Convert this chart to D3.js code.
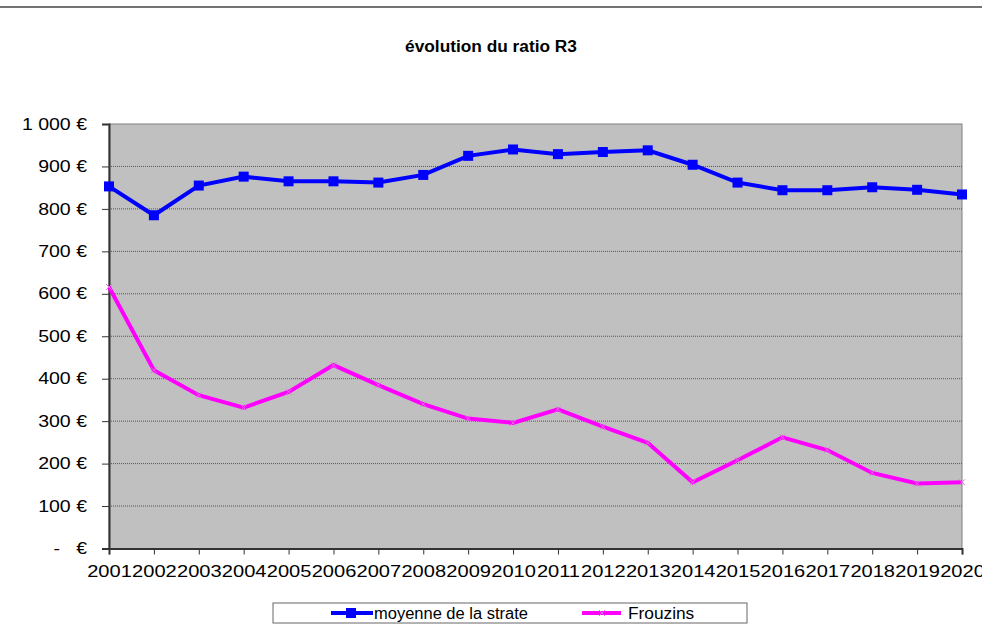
<!DOCTYPE html>
<html>
<head>
<meta charset="utf-8">
<script src="https://cdn.jsdelivr.net/npm/d3@7"></script>
<style>
  body { margin: 0; background: #fff; }
  text { font-family: "Liberation Sans", Arial, sans-serif; }
</style>
</head>
<body>
<script>
// Data
const years = d3.range(2001, 2021);
const strate = [853, 785, 855, 876, 865, 865, 862, 880, 925, 940, 929, 934, 938, 904, 862, 844, 844, 851, 845, 834];
const frouzins = [616, 420, 361, 332, 369, 432, 385, 340, 306, 296, 328, 287, 249, 156, 208, 262, 232, 178, 153, 156];
const yTicks = [0, 100, 200, 300, 400, 500, 600, 700, 800, 900, 1000];
const yTickLabels = ["-   €", "100 €", "200 €", "300 €", "400 €", "500 €", "600 €", "700 €", "800 €", "900 €", "1 000 €"];

const W = 982, H = 643;
const plot = { left: 109, right: 962, top: 124, bottom: 548.5 };

const svg = d3.select("body").append("svg")
    .attr("width", W)
    .attr("height", H);

// stretch text horizontally (the original glyphs are wider than Arial)
function widen(sel, k) {
    sel.each(function() {
        const w = this.getComputedTextLength();
        d3.select(this)
            .attr("textLength", w * k)
            .attr("lengthAdjust", "spacingAndGlyphs");
    });
}

// frame line of the chart area
svg.append("line")
    .attr("x1", 0).attr("x2", W).attr("y1", 7).attr("y2", 7)
    .attr("stroke", "#444").attr("stroke-width", 1.5);

// Title
svg.append("text")
    .attr("x", 491).attr("y", 52)
    .attr("text-anchor", "middle")
    .style("font-size", "16px")
    .style("font-weight", "bold")
    .text("évolution du ratio R3")
    .call(widen, 1.08);

const x = d3.scalePoint()
    .domain(years)
    .range([plot.left, plot.right]);

const y = d3.scaleLinear()
    .domain([0, 1000])
    .range([plot.bottom, plot.top]);

// plot background
svg.append("rect")
    .attr("x", plot.left).attr("y", plot.top)
    .attr("width", plot.right - plot.left)
    .attr("height", plot.bottom - plot.top)
    .attr("fill", "#c0c0c0")
    .attr("stroke", "#808080");

// gridlines
svg.append("g")
    .selectAll("line")
    .data(yTicks.filter(d => d > 0 && d < 1000))
    .join("line")
    .attr("x1", plot.left).attr("x2", plot.right)
    .attr("y1", d => y(d)).attr("y2", d => y(d))
    .attr("stroke", "#555")
    .attr("stroke-width", 1)
    .attr("stroke-dasharray", "1,1");

// y axis
const yAxis = svg.append("g")
    .attr("transform", `translate(${plot.left},0)`)
    .call(d3.axisLeft(y).tickValues(yTicks).tickSize(7).tickPadding(15)
        .tickFormat((d, i) => yTickLabels[i]));
yAxis.select(".domain").attr("stroke", "#333").attr("stroke-width", 2);
yAxis.selectAll(".tick line").attr("stroke", "#333");
yAxis.selectAll("text")
    .attr("font-size", 16)
    .attr("fill", "#000")
    .style("white-space", "pre")
    .call(widen, 1.22);

// x axis
const xAxis = svg.append("g")
    .attr("transform", `translate(0,${plot.bottom})`)
    .call(d3.axisBottom(x).tickSize(6).tickPadding(10).tickFormat(d3.format("d")));
xAxis.select(".domain").attr("stroke", "#333").attr("stroke-width", 2);
xAxis.selectAll(".tick line").attr("stroke", "#333");
xAxis.selectAll("text")
    .attr("font-size", 17)
    .attr("fill", "#000")
    .call(widen, 1.18);

// lines
const line = d3.line()
    .x((d, i) => x(years[i]))
    .y(d => y(d));

svg.append("path")
    .datum(strate)
    .attr("fill", "none")
    .attr("stroke", "#0000ff")
    .attr("stroke-width", 4)
    .attr("d", line);

svg.append("g")
    .selectAll("rect")
    .data(strate)
    .join("rect")
    .attr("x", (d, i) => x(years[i]) - 5)
    .attr("y", d => y(d) - 5)
    .attr("width", 10).attr("height", 10)
    .attr("fill", "#0000ff");

svg.append("path")
    .datum(frouzins)
    .attr("fill", "none")
    .attr("stroke", "#ff00ff")
    .attr("stroke-width", 4)
    .attr("d", line);

svg.append("g")
    .selectAll("path")
    .data(frouzins)
    .join("path")
    .attr("d", (d, i) => {
        const cx = x(years[i]), cy = y(d), s = 3;
        return `M${cx - s},${cy - s}L${cx + s},${cy + s}M${cx - s},${cy + s}L${cx + s},${cy - s}`;
    })
    .attr("stroke", "#e070e0")
    .attr("stroke-width", 1);

// Legend
const legend = svg.append("g");
legend.append("rect")
    .attr("x", 273).attr("y", 603)
    .attr("width", 474).attr("height", 20)
    .attr("fill", "#fff")
    .attr("stroke", "#666");

legend.append("line")
    .attr("x1", 331).attr("x2", 373).attr("y1", 613).attr("y2", 613)
    .attr("stroke", "#0000ff").attr("stroke-width", 4);
legend.append("rect")
    .attr("x", 346).attr("y", 608).attr("width", 10).attr("height", 10)
    .attr("fill", "#0000ff");
legend.append("text")
    .attr("x", 374).attr("y", 619)
    .style("font-size", "16px")
    .text("moyenne de la strate")
    .call(widen, 1.03);

legend.append("line")
    .attr("x1", 582).attr("x2", 621).attr("y1", 613).attr("y2", 613)
    .attr("stroke", "#ff00ff").attr("stroke-width", 4);
legend.append("path")
    .attr("d", "M599,610L605,616M599,616L605,610")
    .attr("stroke", "#e070e0").attr("stroke-width", 1);
legend.append("text")
    .attr("x", 628).attr("y", 619)
    .style("font-size", "16px")
    .text("Frouzins")
    .call(widen, 1.08);
</script>
</body>
</html>
